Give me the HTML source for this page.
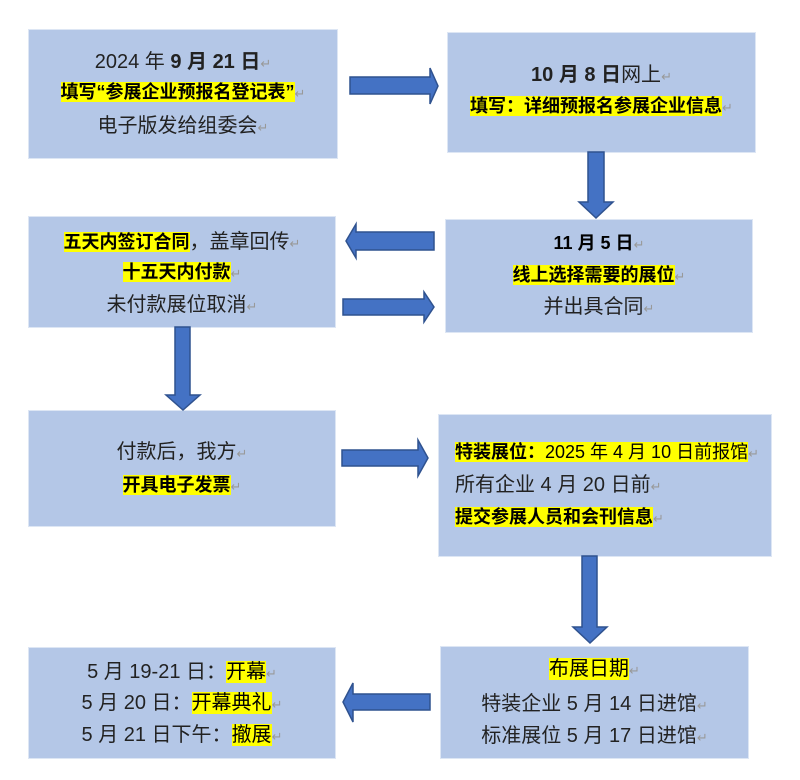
<!DOCTYPE html>
<html><head><meta charset="utf-8"><style>
body{margin:0;width:800px;height:780px;background:#fff;position:relative;overflow:hidden;font-family:"Liberation Sans","Noto Sans CJK SC",sans-serif;color:#222}
.b{position:absolute;background:#b4c7e7;border:1px solid #dde6f4;box-sizing:border-box}
.l{position:absolute;line-height:28px;height:28px;white-space:nowrap;font-size:20px}
.c{text-align:center}
.s{font-size:18px;font-weight:bold;color:#000}
.h{background:#ffff00;color:#000}
.r{color:#999;font-size:13px;font-weight:normal}
b{font-weight:bold}
svg{position:absolute;left:0;top:0}
</style></head><body>
<div class="b" style="left:28px;top:29px;width:310px;height:130px"></div>
<div class="b" style="left:447px;top:32px;width:309px;height:121px"></div>
<div class="b" style="left:28px;top:216px;width:308px;height:112px"></div>
<div class="b" style="left:445px;top:219px;width:308px;height:114px"></div>
<div class="b" style="left:28px;top:410px;width:308px;height:117px"></div>
<div class="b" style="left:438px;top:414px;width:334px;height:143px"></div>
<div class="b" style="left:440px;top:646px;width:309px;height:113px"></div>
<div class="b" style="left:28px;top:647px;width:308px;height:112px"></div>

<svg width="800" height="780">
<g fill="#4472c4" stroke="#2f528f" stroke-width="1.5">
<polygon points="350,77 430,77 430,68 438,86 430,104 430,94 350,94"/>
<polygon points="588,152 604,152 604,202 613,202 596,218 579,202 588,202"/>
<polygon points="434,232 356,232 356,224 346,241 356,258 356,250 434,250"/>
<polygon points="343,299 424,299 424,292 434,307 424,322 424,315 343,315"/>
<polygon points="175,327 190,327 190,395 200,395 183,410 166,395 175,395"/>
<polygon points="342,450 418,450 418,440 428,458 418,476 418,466 342,466"/>
<polygon points="582,556 597,556 597,627 607,627 590,643 573,627 582,627"/>
<polygon points="430,694 353,694 353,683 343,702 353,722 353,710 430,710"/>
</g></svg>

<div class="l c" style="left:28px;width:310px;top:48px">2024 年 <b>9 月 21 日</b><span class="r">↵</span></div>
<div class="l c s" style="left:28px;width:310px;top:78px"><span class="h">填写“参展企业预报名登记表”</span><span class="r">↵</span></div>
<div class="l c" style="left:28px;width:310px;top:112px">电子版发给组委会<span class="r">↵</span></div>

<div class="l c" style="left:447px;width:309px;top:61px"><b>10 月 8 日</b>网上<span class="r">↵</span></div>
<div class="l c s" style="left:447px;width:309px;top:92px"><span class="h">填写：详细预报名参展企业信息</span><span class="r">↵</span></div>

<div class="l c" style="left:28px;width:308px;top:228px"><span class="h s">五天内签订合同</span>，盖章回传<span class="r">↵</span></div>
<div class="l c s" style="left:28px;width:308px;top:258px"><span class="h">十五天内付款</span><span class="r">↵</span></div>
<div class="l c" style="left:28px;width:308px;top:291px">未付款展位取消<span class="r">↵</span></div>

<div class="l c s" style="left:445px;width:308px;top:229px">11 月 5 日<span class="r">↵</span></div>
<div class="l c s" style="left:445px;width:308px;top:261px"><span class="h">线上选择需要的展位</span><span class="r">↵</span></div>
<div class="l c" style="left:445px;width:308px;top:293px">并出具合同<span class="r">↵</span></div>

<div class="l c" style="left:28px;width:308px;top:438px">付款后，我方<span class="r">↵</span></div>
<div class="l c s" style="left:28px;width:308px;top:471px"><span class="h">开具电子发票</span><span class="r">↵</span></div>

<div class="l" style="left:455px;top:438px;font-size:18px"><span class="h"><b>特装展位：</b>2025 年 4 月 10 日前报馆</span><span class="r">↵</span></div>
<div class="l" style="left:455px;top:471px">所有企业 4 月 20 日前<span class="r">↵</span></div>
<div class="l s" style="left:455px;top:503px"><span class="h">提交参展人员和会刊信息</span><span class="r">↵</span></div>

<div class="l c" style="left:440px;width:309px;top:655px"><span class="h">布展日期</span><span class="r">↵</span></div>
<div class="l c" style="left:440px;width:309px;top:690px">特装企业 5 月 14 日进馆<span class="r">↵</span></div>
<div class="l c" style="left:440px;width:309px;top:722px">标准展位 5 月 17 日进馆<span class="r">↵</span></div>

<div class="l c" style="left:28px;width:308px;top:658px">5 月 19-21 日：<span class="h">开幕</span><span class="r">↵</span></div>
<div class="l c" style="left:28px;width:308px;top:689px">5 月 20 日：<span class="h">开幕典礼</span><span class="r">↵</span></div>
<div class="l c" style="left:28px;width:308px;top:721px">5 月 21 日下午：<span class="h">撤展</span><span class="r">↵</span></div>
</body></html>
